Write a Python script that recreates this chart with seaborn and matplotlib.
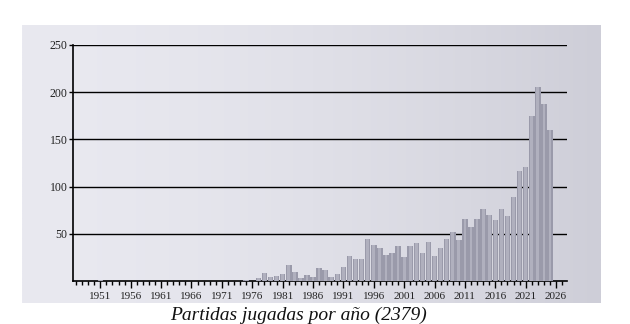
import numpy as np
import pandas as pd
import matplotlib
matplotlib.use("Agg")
import matplotlib.pyplot as plt
import seaborn as sns

# ---- data ----
years = [1951, 1975, 1977, 1978, 1979, 1980, 1981, 1982, 1983, 1984, 1985,
         1986, 1987, 1988, 1989, 1990, 1991, 1992, 1993, 1994, 1995, 1996,
         1997, 1998, 1999, 2000, 2001, 2002, 2003, 2004, 2005, 2006, 2007,
         2008, 2009, 2010, 2011, 2012, 2013, 2014, 2015, 2016, 2017, 2018,
         2019, 2020, 2021, 2022, 2023, 2024, 2025]
games = [1, 1, 3, 8, 4, 5, 7, 17, 10, 3, 6,
         4, 14, 12, 4, 7, 15, 26, 23, 23, 44, 38,
         35, 28, 30, 37, 25, 37, 40, 30, 41, 26, 35,
         45, 52, 43, 66, 57, 66, 76, 70, 65, 76, 69,
         89, 117, 121, 175, 206, 187, 160]
x_tick_years = list(range(1951, 2027, 5))
y_ticks = [50, 100, 150, 200, 250]
title_text = "Partidas jugadas por año"

df = pd.DataFrame({"year": years, "games": games})
total = int(df["games"].sum())

sns.set_style("white")
plt.rcParams["font.family"] = ["Liberation Serif", "DejaVu Serif"]

W, H = 630, 324
fig = plt.figure(figsize=(W / 100, H / 100), dpi=100)
fig.patch.set_facecolor("white")

# background gradient panel
bg = fig.add_axes([22 / W, 1 - 303 / H, (601 - 22) / W, (303 - 25) / H], zorder=0)
gx = np.linspace(0, 1, 300)
gy = np.linspace(0, 1, 100)
GX, GY = np.meshgrid(gx, gy)
left = np.array([233, 233, 240]) / 255
right = np.array([206, 206, 216]) / 255
t = (GX ** 1.6)[..., None]
img = left * (1 - t) + right * t
bg.imshow(np.clip(img, 0, 1), aspect="auto", extent=[0, 1, 0, 1])
bg.set_axis_off()

# main axes
ax = fig.add_axes([73 / W, 1 - 281 / H, (567 - 73) / W, (281 - 45) / H], zorder=1)
ax.patch.set_alpha(0)

sns.barplot(data=df, x="year", y="games", native_scale=True, width=0.92,
            color="#9a9aaa", saturation=1, errorbar=None, ax=ax, zorder=3,
            linewidth=0, edgecolor="none")
sns.barplot(data=df, x="year", y="games", native_scale=True, width=0.45,
            color="#b0b0be", saturation=1, errorbar=None, ax=ax, zorder=4,
            linewidth=0, edgecolor="none")

ax.set_xlim(1946.5, 2027.8)
ax.set_ylim(0, 250)

ax.set_yticks(y_ticks)
ax.set_yticklabels([str(v) for v in y_ticks], fontsize=8.5, color="#222222")
ax.yaxis.grid(True, color="black", linewidth=1.0, zorder=2)
ax.set_axisbelow(True)

ax.set_xticks(x_tick_years)
ax.set_xticklabels([str(y) for y in x_tick_years], fontsize=8, color="#222222")
ax.set_xticks(list(range(1947, 2028)), minor=True)
ax.tick_params(axis="x", which="major", length=5, width=1, color="black", pad=3, direction="out", bottom=True)
ax.tick_params(axis="x", which="minor", length=3, width=1, color="black", direction="out", bottom=True)
ax.tick_params(axis="y", which="major", length=3, width=1, color="black", pad=1, direction="out", left=True)

for s in ["top", "right"]:
    ax.spines[s].set_visible(False)
for s in ["left", "bottom"]:
    ax.spines[s].set_color("black")
    ax.spines[s].set_linewidth(1.2)
ax.set_xlabel("")
ax.set_ylabel("")

fig.text(298 / W, 1 - 315 / H, f"{title_text} ({total})", ha="center", va="center",
         fontsize=14, style="italic", color="#111111",
         family=["Liberation Serif", "DejaVu Serif"])

fig.savefig("out.png", dpi=100)
